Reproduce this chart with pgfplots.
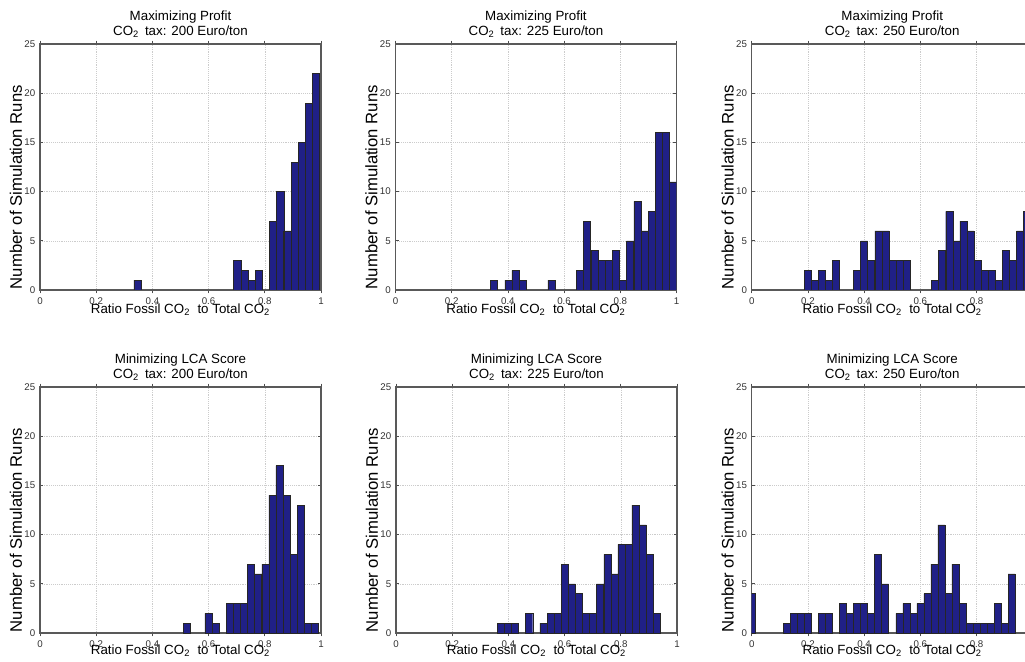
\documentclass[border=0pt]{standalone}
\usepackage{fontspec}
\setmainfont{Liberation Sans}
\usepackage{pgfplots}
\pgfplotsset{compat=1.18}
\definecolor{histblue}{RGB}{32,32,135}
\pgfplotsset{
  panel/.style={
    scale only axis, width=210.75pt, height=184.5pt,
    xmin=0, xmax=1, ymin=0, ymax=25,
    xtick={0,0.2,0.4,0.6,0.8,1}, ytick={0,5,10,15,20,25},
    tick align=inside, major tick length=2.5pt,
    xtick pos=both, ytick pos=both,
    xticklabel pos=bottom, yticklabel pos=left,
    grid=major, grid style={densely dotted, gray!40, line width=0.4pt},
    axis line style={black!65, line width=0.9pt},
    tick style={black!70, line width=0.5pt},
    tick label style={font=\fontsize{7.3}{8}\selectfont, text=black!80},
    /pgf/number format/assume math mode=true,
    title style={font=\fontsize{10}{11.5}\selectfont, align=center,
      at={(0.5,1)}, anchor=south, yshift=-5pt},
    xlabel={Ratio Fossil CO\textsubscript{2}\ \ to Total CO\textsubscript{2}},
    ylabel={Number of Simulation Runs},
    xlabel style={font=\fontsize{10}{12}\selectfont,
      at={(axis description cs:0.5,0)}, anchor=center, yshift=-15pt},
    ylabel style={font=\fontsize{12.5}{14}\selectfont,
      at={(axis description cs:-0.0854,0.418)}, anchor=center},
    ybar,
  },
  lowrow/.style={xlabel style={yshift=2pt}},
  histbar/.style={fill=histblue, draw=black!85, line width=0.35pt},
}
\begin{document}
\begin{tikzpicture}

% top row: maximizing profit
\begin{axis}[panel, at={(30pt,278.25pt)}, anchor=south west, bar width=0.0254,
  title={Maximizing Profit\\CO\textsubscript{2}\, tax: 200 Euro/ton}]
\addplot[histbar] coordinates {(0.347,1)(0.702,3)(0.728,2)(0.753,1)(0.778,2)
  (0.829,7)(0.855,10)(0.880,6)(0.906,13)(0.931,15)(0.956,19)(0.982,22)};
\end{axis}

\begin{axis}[panel, at={(296.6pt,278.25pt)}, anchor=south west, bar width=0.0255,
  title={Maximizing Profit\\CO\textsubscript{2}\, tax: 225 Euro/ton}]
\addplot[histbar] coordinates {(0.351,1)(0.402,1)(0.427,2)(0.453,1)(0.555,1)
  (0.657,2)(0.682,7)(0.708,4)(0.733,3)(0.759,3)(0.784,4)(0.810,1)(0.835,5)
  (0.861,9)(0.886,6)(0.912,8)(0.937,16)(0.963,16)(0.988,11)};
\end{axis}

\begin{axis}[panel, at={(563.8pt,278.25pt)}, anchor=south west, bar width=0.0252,
  title={Maximizing Profit\\CO\textsubscript{2}\, tax: 250 Euro/ton}]
\addplot[histbar] coordinates {(0.199,2)(0.224,1)(0.249,2)(0.274,1)(0.299,3)
  (0.375,2)(0.400,5)(0.425,3)(0.451,6)(0.476,6)(0.501,3)(0.526,3)(0.551,3)
  (0.652,1)(0.677,4)(0.703,8)(0.728,5)(0.753,7)(0.778,6)(0.803,3)(0.829,2)
  (0.854,2)(0.879,1)(0.904,4)(0.929,3)(0.955,6)(0.980,8)};
\end{axis}

% bottom row: minimizing LCA score
\begin{axis}[panel, lowrow, at={(30pt,21pt)}, anchor=south west, bar width=0.0253,
  title={Minimizing LCA Score\\CO\textsubscript{2}\, tax: 200 Euro/ton}]
\addplot[histbar] coordinates {(0.523,1)(0.599,2)(0.624,1)(0.675,3)(0.700,3)
  (0.726,3)(0.751,7)(0.776,6)(0.802,7)(0.827,14)(0.852,17)(0.877,14)(0.903,8)
  (0.928,13)(0.953,1)(0.979,1)};
\end{axis}

\begin{axis}[panel, lowrow, at={(297pt,21pt)}, anchor=south west, bar width=0.0252,
  title={Minimizing LCA Score\\CO\textsubscript{2}\, tax: 225 Euro/ton}]
\addplot[histbar] coordinates {(0.374,1)(0.399,1)(0.424,1)(0.474,2)(0.525,1)
  (0.550,2)(0.575,2)(0.600,7)(0.626,5)(0.651,4)(0.676,2)(0.701,2)(0.726,5)
  (0.752,8)(0.777,6)(0.802,9)(0.827,9)(0.852,13)(0.878,11)(0.903,8)(0.928,2)};
\end{axis}

\begin{axis}[panel, lowrow, at={(563.8pt,21pt)}, anchor=south west, bar width=0.025,
  title={Minimizing LCA Score\\CO\textsubscript{2}\, tax: 250 Euro/ton}]
\addplot[histbar] coordinates {(0,4)(0.125,1)(0.150,2)(0.175,2)(0.200,2)
  (0.250,2)(0.275,2)(0.325,3)(0.350,2)(0.375,3)(0.400,3)(0.425,2)(0.450,8)
  (0.475,5)(0.525,2)(0.550,3)(0.575,2)(0.600,3)(0.625,4)(0.650,7)(0.675,11)
  (0.700,4)(0.725,7)(0.750,3)(0.775,1)(0.800,1)(0.825,1)(0.850,1)(0.875,3)
  (0.900,1)(0.925,6)};
\end{axis}

\pgfresetboundingbox
\path[use as bounding box] (0,0) rectangle (768.75pt,495.75pt);
\end{tikzpicture}
\end{document}
